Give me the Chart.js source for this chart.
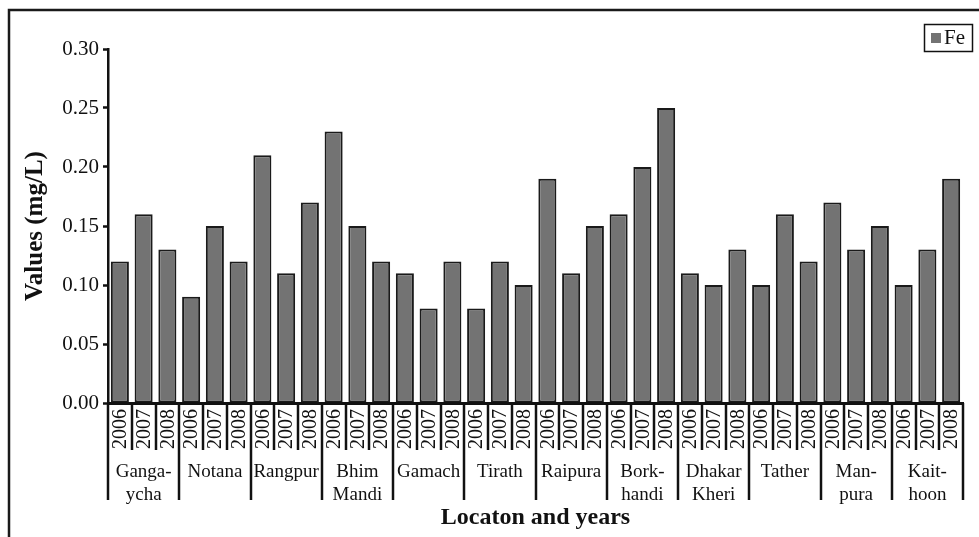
<!DOCTYPE html>
<html lang="en">
<head>
    <meta charset="UTF-8">
    <title>Fe values by location and year</title>
    <script src="https://cdn.jsdelivr.net/npm/chart.js"></script>
    <style>
        body { margin: 0; background: #fff; }
        #wrap { width: 979px; height: 537px; position: relative; }
    </style>
</head>
<body>
    <div id="wrap"><canvas id="myChart"></canvas></div>
    <script>
        // data
        const locations = [
            ['Ganga-', 'ycha'], ['Notana'], ['Rangpur'], ['Bhim', 'Mandi'],
            ['Gamach'], ['Tirath'], ['Raipura'], ['Bork-', 'handi'],
            ['Dhakar', 'Kheri'], ['Tather'], ['Man-', 'pura'], ['Kait-', 'hoon']
        ];
        const years = ['2006', '2007', '2008'];
        const feValues = [
            0.12, 0.16, 0.13,
            0.09, 0.15, 0.12,
            0.21, 0.11, 0.17,
            0.23, 0.15, 0.12,
            0.11, 0.08, 0.12,
            0.08, 0.12, 0.10,
            0.19, 0.11, 0.15,
            0.16, 0.20, 0.25,
            0.11, 0.10, 0.13,
            0.10, 0.16, 0.12,
            0.17, 0.13, 0.15,
            0.10, 0.13, 0.19
        ];
        const yTicks = [0, 0.05, 0.10, 0.15, 0.20, 0.25, 0.30];

        const labels = [];
        locations.forEach(loc => years.forEach(y => labels.push(y)));

        const FONT = '"Liberation Serif", "Times New Roman", serif';
        const BAR_FILL = '#737373';

        // frame, category dividers, year/location labels and legend box
        const decorations = {
            id: 'decorations',
            beforeDraw(chart) {
                const ctx = chart.ctx;
                ctx.save();
                ctx.strokeStyle = '#1a1a1a';
                ctx.lineWidth = 2.5;
                ctx.beginPath();
                ctx.moveTo(9, chart.height);
                ctx.lineTo(9, 10);
                ctx.lineTo(chart.width, 10);
                ctx.stroke();
                ctx.restore();
            },
            afterDraw(chart) {
                const ctx = chart.ctx;
                const x = chart.scales.x;
                const base = chart.chartArea.bottom;
                const n = labels.length;
                const edge = i => {
                    if (i === 0) return x.left;
                    if (i === n) return x.right;
                    return (x.getPixelForValue(i - 1) + x.getPixelForValue(i)) / 2;
                };
                ctx.save();
                ctx.strokeStyle = '#111';
                ctx.lineWidth = 2.5;
                for (let i = 0; i <= n; i++) {
                    const px = Math.round(edge(i));
                    const isGroup = i % years.length === 0;
                    ctx.beginPath();
                    ctx.moveTo(px, base);
                    ctx.lineTo(px, base + (isGroup ? 97 : 47));
                    ctx.stroke();
                }

                // year labels, rotated
                ctx.fillStyle = '#111';
                ctx.font = '20px ' + FONT;
                ctx.textAlign = 'center';
                ctx.textBaseline = 'middle';
                labels.forEach((lab, i) => {
                    ctx.save();
                    ctx.translate(x.getPixelForValue(i) + 1, base + 26);
                    ctx.rotate(-Math.PI / 2);
                    ctx.fillText(lab, 0, 0);
                    ctx.restore();
                });

                // location names
                ctx.font = '19px ' + FONT;
                locations.forEach((loc, g) => {
                    const cx = (edge(g * 3) + edge(g * 3 + 3)) / 2;
                    loc.forEach((line, k) => {
                        ctx.fillText(line, cx, base + 69 + k * 23);
                    });
                });

                // legend
                ctx.lineWidth = 1.5;
                ctx.strokeStyle = '#111';
                ctx.strokeRect(924.5, 24.5, 48, 27);
                ctx.fillStyle = BAR_FILL;
                ctx.fillRect(931, 33, 10, 10);
                ctx.fillStyle = '#111';
                ctx.font = '21px ' + FONT;
                ctx.textAlign = 'left';
                ctx.fillText(chart.data.datasets[0].label, 944, 38);
                ctx.restore();
            }
        };

        const ctx = document.getElementById('myChart').getContext('2d');
        new Chart(ctx, {
            type: 'bar',
            data: {
                labels: labels,
                datasets: [{
                    label: 'Fe',
                    data: feValues,
                    backgroundColor: BAR_FILL,
                    borderColor: '#1a1a1a',
                    borderWidth: 2,
                    borderSkipped: false,
                    barPercentage: 0.76,
                    categoryPercentage: 1.0
                }]
            },
            options: {
                responsive: true,
                maintainAspectRatio: false,
                animation: false,
                layout: { padding: { left: 0, right: 16, top: 49, bottom: 0 } },
                plugins: {
                    legend: { display: false },
                    tooltip: { enabled: false }
                },
                scales: {
                    x: {
                        offset: true,
                        grid: { display: false },
                        ticks: { display: false },
                        border: { display: true, color: '#111', width: 3 },
                        title: {
                            display: true,
                            text: 'Locaton and years',
                            color: '#111',
                            font: { family: FONT, size: 24, weight: 'bold' },
                            padding: { top: 0, bottom: 5 }
                        },
                        afterFit: s => { s.height = 134; }
                    },
                    y: {
                        min: 0,
                        max: 0.3,
                        afterBuildTicks: s => { s.ticks = yTicks.map(v => ({ value: v })); },
                        ticks: {
                            color: '#111',
                            padding: 4,
                            font: { family: FONT, size: 21 },
                            callback: v => Number(v).toFixed(2)
                        },
                        grid: {
                            display: true,
                            drawOnChartArea: false,
                            drawTicks: true,
                            tickLength: 5,
                            tickWidth: 2.5,
                            tickColor: '#111'
                        },
                        border: { display: true, color: '#111', width: 2.5 },
                        title: {
                            display: true,
                            text: 'Values (mg/L)',
                            color: '#111',
                            font: { family: FONT, size: 25, weight: 'bold' },
                            padding: { top: 21, bottom: 0 }
                        },
                        afterFit: s => { s.width = 108; }
                    }
                }
            },
            plugins: [decorations]
        });
    </script>
</body>
</html>
